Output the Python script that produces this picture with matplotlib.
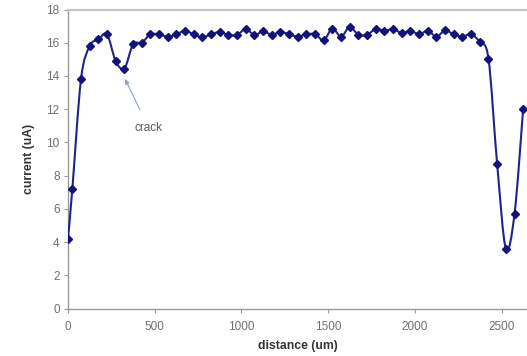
import matplotlib
matplotlib.use("Agg")
import matplotlib.pyplot as plt
from matplotlib.path import Path
from matplotlib.patches import PathPatch
import numpy as np

# ---- data ----
distance = [0, 25, 75, 125, 175, 225, 275, 325, 375, 425, 475, 525, 575, 625,
            675, 725, 775, 825, 875, 925, 975, 1025, 1075, 1125, 1175, 1225,
            1275, 1325, 1375, 1425, 1475, 1525, 1575, 1625, 1675, 1725, 1775,
            1825, 1875, 1925, 1975, 2025, 2075, 2125, 2175, 2225, 2275, 2325,
            2375, 2425, 2475, 2525, 2575, 2625]
current = [4.2, 7.2, 13.8, 15.8, 16.2, 16.5, 14.9, 14.45, 15.9, 16.0, 16.5, 16.5,
           16.37, 16.5, 16.73, 16.5, 16.33, 16.5, 16.65, 16.47, 16.47, 16.83,
           16.47, 16.68, 16.49, 16.65, 16.51, 16.37, 16.51, 16.51, 16.16, 16.85,
           16.37, 16.95, 16.47, 16.49, 16.82, 16.72, 16.82, 16.59, 16.72, 16.51,
           16.72, 16.37, 16.74, 16.5, 16.37, 16.51, 16.03, 15.03, 8.7, 3.62,
           5.7, 12.03]
x_ticks = [0, 500, 1000, 1500, 2000, 2500]
y_ticks = [0, 2, 4, 6, 8, 10, 12, 14, 16, 18]
x_label = "distance (um)"
y_label = "current (uA)"
note_text = "crack"
note_point = (329, 13.82)
note_text_pos = (464, 10.9)

plt.rcParams['font.family'] = ['Liberation Sans', 'DejaVu Sans']

W, H = 527, 356
fig = plt.figure(figsize=(W / 100, H / 100), dpi=100)
left, right, top, bottom = 68, 527, 9.5, 308.7
ax = fig.add_axes([left / W, 1 - bottom / H, (right - left) / W, (bottom - top) / H])

line_color = "#22228f"

# smoothed line (Excel-style Catmull-Rom bezier) through the data points
x = np.asarray(distance, float)
y = np.asarray(current, float)
pts = np.column_stack([x, y])
ext = np.vstack([pts[0], pts, pts[-1]])
verts = [tuple(pts[0])]
codes = [Path.MOVETO]
for i in range(len(pts) - 1):
    p0, p1, p2, p3 = ext[i], ext[i + 1], ext[i + 2], ext[i + 3]
    c1 = p1 + (p2 - p0) / 6.0
    c2 = p2 - (p3 - p1) / 6.0
    verts += [tuple(c1), tuple(c2), tuple(p2)]
    codes += [Path.CURVE4, Path.CURVE4, Path.CURVE4]
ax.add_patch(PathPatch(Path(verts, codes), facecolor="none",
                       edgecolor=line_color, lw=1.5, zorder=3))
ax.plot(distance, current, linestyle="none", marker="D", markersize=3.8,
        color="#12127a", zorder=4)

ax.set_xlim(0, (right - left) / (86.7 / 500))
ax.set_ylim(0, 18)
ax.set_xticks(x_ticks)
ax.set_yticks(y_ticks)

for s in ["left", "bottom"]:
    ax.spines[s].set_color("#9a9a9a")
    ax.spines[s].set_linewidth(1.0)
ax.spines["top"].set_color("#c4c4c4")
ax.spines["top"].set_linewidth(1.6)
ax.spines["right"].set_visible(False)

ax.tick_params(axis="both", direction="out", length=3, width=0.8,
               color="#9a9a9a", labelcolor="#707070", labelsize=8.5)
ax.tick_params(axis="x", pad=6)
ax.tick_params(axis="y", pad=3)

ax.set_xlabel(x_label, fontsize=8.8, fontweight="bold", color="#333333", labelpad=5)
ax.set_ylabel(y_label, fontsize=8.8, fontweight="bold", color="#333333", labelpad=8)

ax.annotate(note_text, xy=note_point, xytext=note_text_pos,
            fontsize=8.5, color="#5a5a5a", ha="center", va="center",
            arrowprops=dict(arrowstyle="-|>", color="#8fa5c4", lw=0.8,
                            mutation_scale=7, shrinkA=7, shrinkB=0))

fig.savefig("out.png", dpi=100)
